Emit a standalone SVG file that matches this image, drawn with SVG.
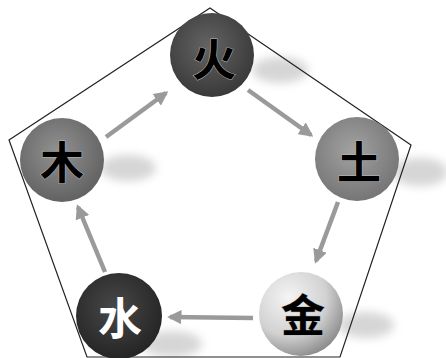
<svg xmlns="http://www.w3.org/2000/svg" width="446" height="358" viewBox="0 0 446 358">
<style>
.lbl{font-family:"Noto Sans CJK SC","Noto Sans CJK TC",sans-serif;font-size:44px;font-weight:bold;text-anchor:middle;dominant-baseline:central}
.blk{fill:#000;stroke:#bbb;stroke-width:1;paint-order:stroke}
.wht{fill:#fff}
.arr{stroke:#9a9a9a;stroke-width:4.5;fill:none;marker-end:url(#ah)}
.sh{fill:#d6d6d6;filter:url(#blur)}
</style>
<defs>
<marker id="ah" viewBox="0 0 10 10" refX="8" refY="5" markerWidth="3.2" markerHeight="3.2" orient="auto" markerUnits="strokeWidth">
<path d="M0,0 L10,5 L0,10 Z" fill="#9a9a9a"/>
</marker>
<filter id="blur" x="-50%" y="-50%" width="200%" height="200%"><feGaussianBlur stdDeviation="5"/></filter>
<radialGradient id="gFire" cx="0.45" cy="0.4" r="0.65"><stop offset="0" stop-color="#646464"/><stop offset="1" stop-color="#363636"/></radialGradient>
<radialGradient id="gEarth" cx="0.45" cy="0.4" r="0.65"><stop offset="0" stop-color="#a2a2a2"/><stop offset="1" stop-color="#727272"/></radialGradient>
<radialGradient id="gMetal" cx="0.35" cy="0.3" r="0.75"><stop offset="0" stop-color="#f4f4f4"/><stop offset="0.6" stop-color="#d2d2d2"/><stop offset="1" stop-color="#8a8a8a"/></radialGradient>
<radialGradient id="gWater" cx="0.45" cy="0.4" r="0.65"><stop offset="0" stop-color="#484848"/><stop offset="1" stop-color="#222"/></radialGradient>
<radialGradient id="gWood" cx="0.45" cy="0.4" r="0.65"><stop offset="0" stop-color="#929292"/><stop offset="1" stop-color="#5e5e5e"/></radialGradient>
</defs>
<rect width="446" height="358" fill="#fff"/>
<g id="shadows">
<ellipse class="sh" cx="280" cy="70" rx="28" ry="13"/>
<ellipse class="sh" cx="420" cy="172" rx="28" ry="14"/>
<ellipse class="sh" cx="366" cy="325" rx="28" ry="13"/>
<ellipse class="sh" cx="172" cy="344" rx="30" ry="13"/>
<ellipse class="sh" cx="128" cy="168" rx="28" ry="13"/>
</g>
<g id="frame"><polygon points="210,8 411,145 340,357 87,357 9,140" fill="none" stroke="#222" stroke-width="1.2"/></g>
<g id="connectors">
<line class="arr" x1="106" y1="137" x2="166" y2="93"/>
<line class="arr" x1="248" y1="90" x2="311" y2="135"/>
<line class="arr" x1="338" y1="202" x2="316" y2="261"/>
<line class="arr" x1="253" y1="318" x2="170" y2="317"/>
<line class="arr" x1="105" y1="272" x2="78" y2="207"/>
</g>
<g id="fire"><circle cx="212" cy="55" r="42" fill="url(#gFire)"/><text class="lbl blk" x="214" y="57">火</text></g>
<g id="earth"><circle cx="357" cy="159" r="42" fill="url(#gEarth)"/><text class="lbl blk" x="359" y="160">土</text></g>
<g id="metal"><circle cx="301" cy="314" r="42" fill="url(#gMetal)"/><text class="lbl blk" x="303" y="313">金</text></g>
<g id="water"><circle cx="119" cy="316" r="43" fill="url(#gWater)"/><text class="lbl wht" x="120" y="316">水</text></g>
<g id="wood"><circle cx="62" cy="160" r="42" fill="url(#gWood)"/><text class="lbl blk" x="62" y="160">木</text></g>
</svg>
